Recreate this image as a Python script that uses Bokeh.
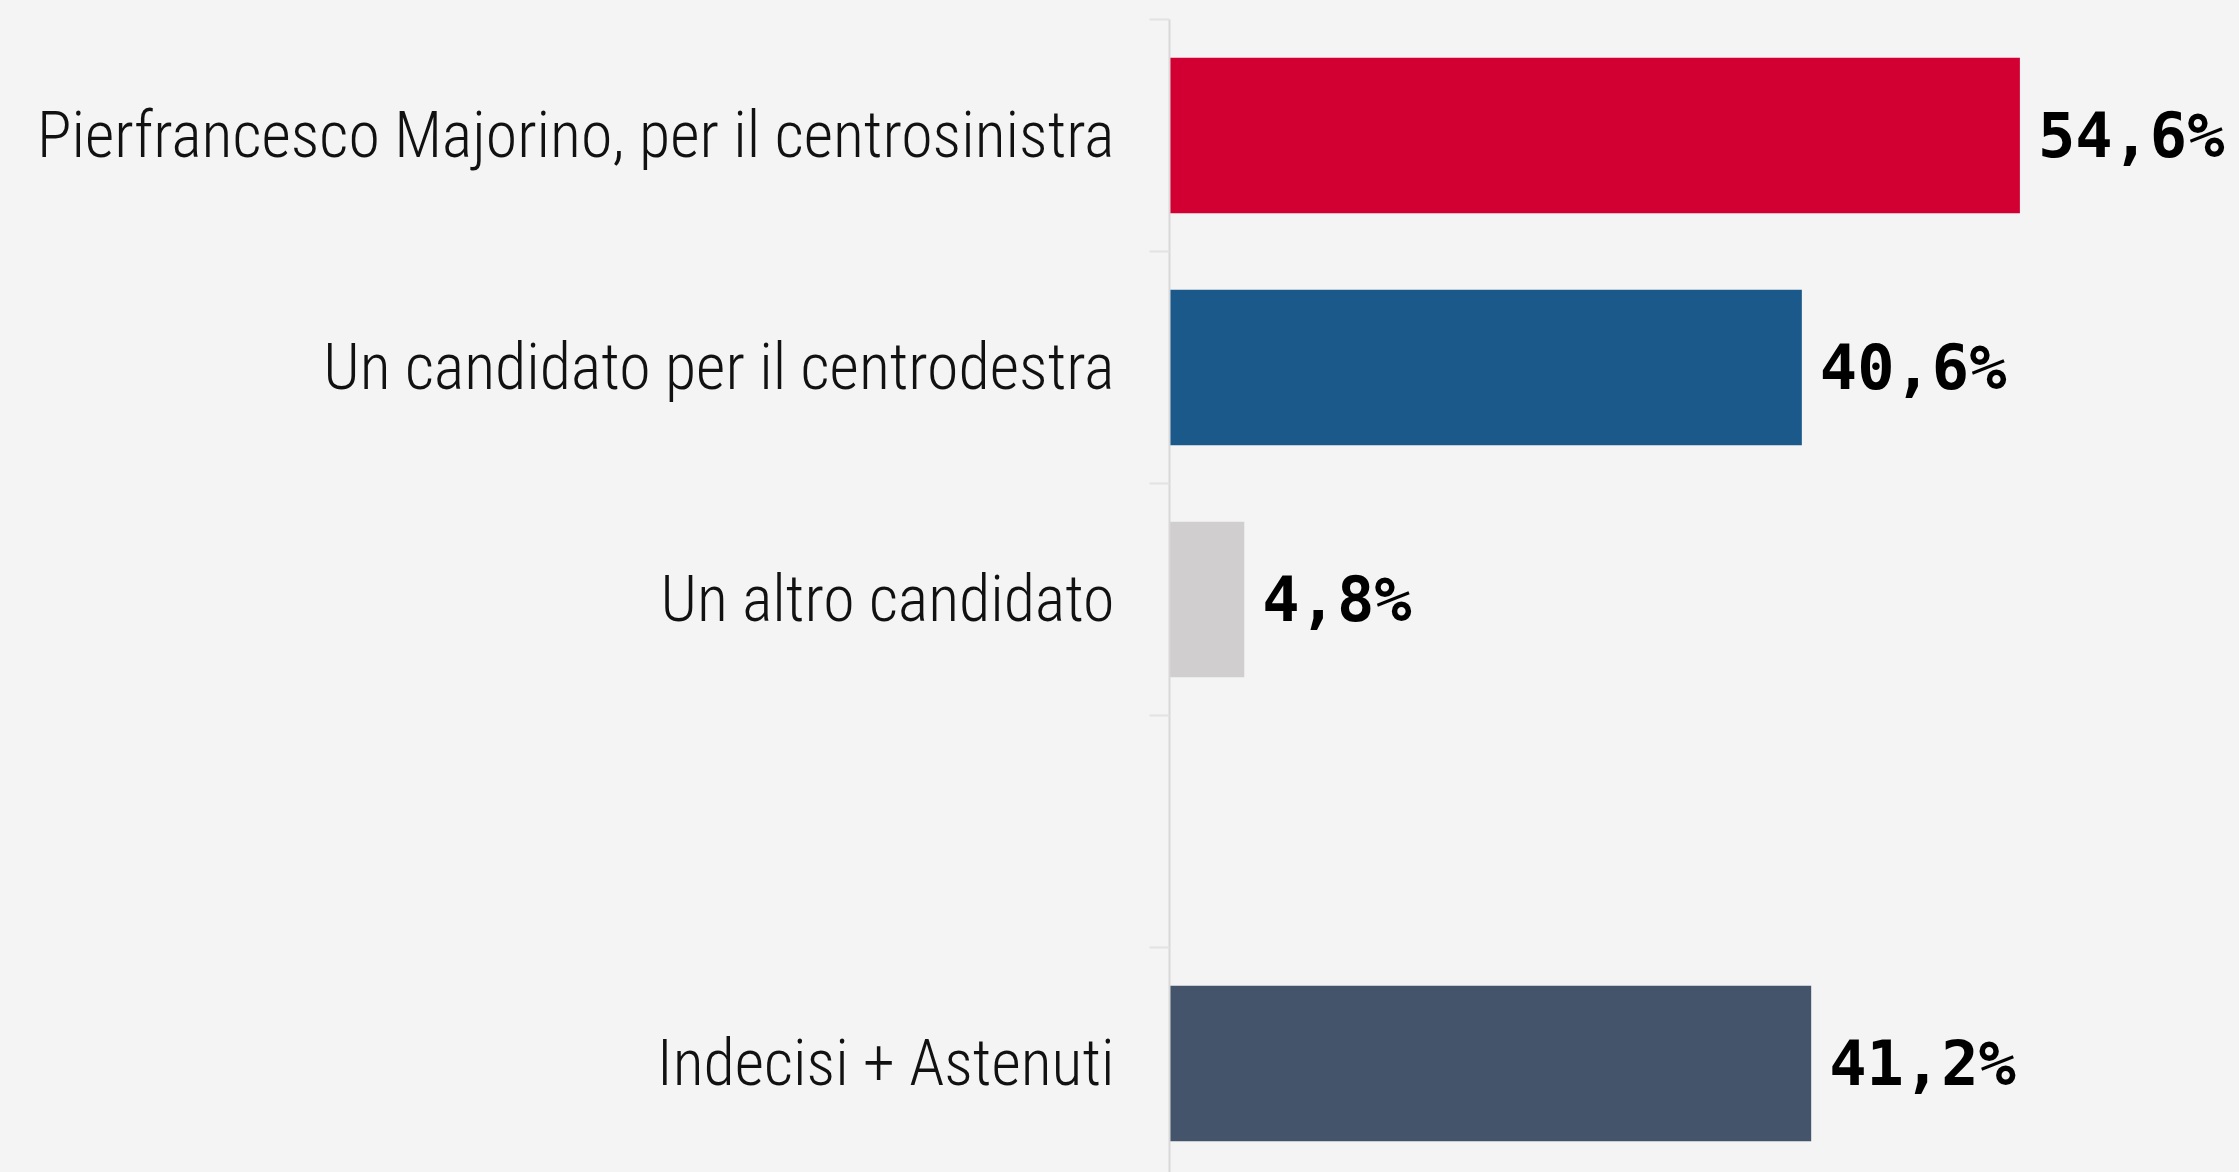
from bokeh.plotting import figure
from bokeh.models import ColumnDataSource, Range1d, LinearAxis, FixedTicker
from bokeh.embed import file_html
from bokeh.resources import INLINE
from bokeh.core.properties import value

# ---- data (top to bottom; "" is the empty spacer slot) ----
categories = [
    "Pierfrancesco Majorino, per il centrosinistra",
    "Un candidato per il centrodestra",
    "Un altro candidato",
    "",
    "Indecisi + Astenuti",
]
values = [54.6, 40.6, 4.8, None, 41.2]
bar_colors = ["#D20032", "#1B598B", "#D0CECF", None, "#44556B"]

n = len(categories)
ys, vs, cs, labels, names = [], [], [], [], []
for i, (cat, v, c) in enumerate(zip(categories, values, bar_colors)):
    if v is None:
        continue
    y = n - i - 0.5
    ys.append(y)
    vs.append(v)
    cs.append(c)
    names.append(cat)
    labels.append(f"{v:.1f}".replace(".", ",") + "%")

src = ColumnDataSource(dict(y=ys, v=vs, color=cs, label=labels))

BG = "#F4F4F4"
p = figure(
    width=2239, height=1172,
    x_range=Range1d(0, 68.7),
    y_range=Range1d(n - 1153 / 232, n),
    output_backend="svg", toolbar_location=None,
    x_axis_location=None, y_axis_location=None,
    min_border_left=1169, min_border_right=0,
    min_border_top=19, min_border_bottom=0,
    background_fill_color=BG, border_fill_color=BG,
    outline_line_color=None,
)
p.xgrid.grid_line_color = None
p.ygrid.grid_line_color = None

p.hbar(y="y", left=0, right="v", height=0.67, fill_color="color",
       line_color=None, source=src)

p.text(x="v", y="y", text="label", x_offset=18, text_align="left",
       text_baseline="middle", text_font=value("DejaVu Sans Mono"),
       text_font_style="bold", text_font_size="62px", text_color="#000000",
       source=src)

# axis with ticks at slot boundaries (inner)
bounds = list(range(n + 1))
tick_axis = LinearAxis(
    ticker=FixedTicker(ticks=bounds),
    major_label_overrides={b: "" for b in bounds},
    major_tick_out=20, major_tick_in=0,
    minor_tick_out=0, minor_tick_in=0,
    major_label_standoff=0,
    axis_line_color="#D8D8D8", axis_line_width=2,
    major_tick_line_color="#E2E2E2", major_tick_line_width=2,
)
p.add_layout(tick_axis, "left")

# axis with category labels at slot centres (outer)
label_axis = LinearAxis(
    ticker=FixedTicker(ticks=ys),
    major_label_overrides={y: nm for y, nm in zip(ys, names)},
    major_tick_out=0, major_tick_in=0,
    minor_tick_out=0, minor_tick_in=0,
    major_label_standoff=35,
    axis_line_color=None,
    major_label_text_font="'Roboto Condensed Light', 'Roboto Condensed'",
    major_label_text_font_size="64px",
    major_label_text_color="#111111",
)
p.add_layout(label_axis, "left")

html = file_html(p, INLINE)
html = html.replace("</head>", "<style>html,body{background:#F4F4F4}</style></head>", 1)
open("out.html", "w").write(html)
